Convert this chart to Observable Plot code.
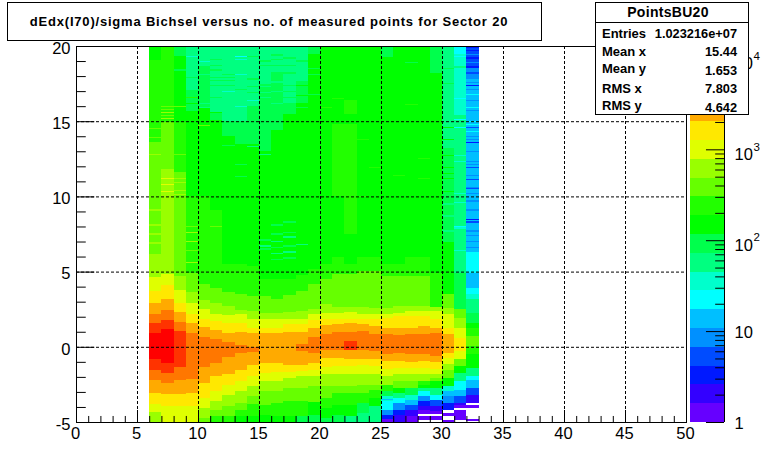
<!DOCTYPE html>
<html><head><meta charset="utf-8">
<script src="https://cdn.jsdelivr.net/npm/d3@7"></script>
<script src="https://cdn.jsdelivr.net/npm/@observablehq/plot@0.6"></script>
<style>
html,body{margin:0;padding:0;background:#fff;width:763px;height:469px;overflow:hidden}
#wrap{position:relative;width:763px;height:469px;font-family:"Liberation Sans",Arial,sans-serif;color:#000}
#wrap svg{position:absolute;left:0;top:0;background:transparent}
#title{position:absolute;left:7px;top:2px;width:522px;padding-right:11px;height:37px;border:1px solid #000;background:#fff;text-align:center;line-height:37px;font-size:13px;font-weight:bold;letter-spacing:.8px;white-space:nowrap}
#stats{position:absolute;left:595px;top:2px;width:152px;height:111px;border:1px solid #000;background:#fff;font-weight:bold}
#stats .h{position:absolute;left:0;top:0;width:144px;padding-right:8px;height:19px;border-bottom:1px solid #000;text-align:center;line-height:19px;font-size:14px;font-weight:bold;letter-spacing:.3px}
#stats .k{position:absolute;left:6px;height:16px;line-height:16px;font-size:13px}
#stats .v{position:absolute;right:11px;height:16px;line-height:16px;font-size:12.8px}
</style></head><body><div id="wrap"></div>
<script>
// Contour colours of the z palette, lowest to highest
const palette = ["#6600ff","#3300ff","#0019ff","#004cff","#0090ff","#00bfff","#00ffff","#00ffcc","#00ff80","#00ff4c","#00ff00","#22ff00","#66ff00","#99ff00","#dfff00","#ffe800","#ffaa00","#ff7700","#ff3300","#ff0000"];
// Contour edges of z
const zEdges = [1,1.61,2.59,4.17,6.72,10.8,17.4,28,45.1,72.6,117,188,303,488,786,1266,2038,3281,5283,8507,13700];

// For each x bin: [contour level, top of the run in y], from y=-5 upward. -1 = empty.
const col06=[[13,-4.33],[14,-3.78],[15,-3.07],[16,-2.18],[17,-1.51],[18,-.8],[19,.89],[18,1.55],[17,2.2],[16,2.89],[15,3.71],[14,4.67],[13,6.18],[12,13.62],[11,19.07],[10,20]];
const col07=[[14,-3.96],[15,-3.13],[16,-2.4],[17,-1.73],[18,-1.11],[19,1.16],[18,1.75],[17,2.42],[16,3.16],[15,4.11],[14,4.82],[13,11.84],[12,14.96],[11,20]];
const col08=[[14,-3.96],[15,-3.11],[16,-2.18],[17,-1.33],[18,1.04],[17,1.64],[16,2.33],[15,2.93],[14,3.76],[13,4.71],[12,11.62],[11,14.96],[10,19.33],[9,20]];
const col09=[[14,-3.96],[15,-3.07],[16,-2.13],[17,.93],[16,1.55],[15,2.2],[14,2.89],[13,3.67],[12,4.93],[11,10],[10,15.7],[9,17.07],[8,20]];
const col10=[[12,-4.73],[13,-4.07],[14,-3.4],[15,-2.4],[16,-1.36],[17,.67],[16,1.31],[15,1.82],[14,2.49],[13,3.11],[12,4.16],[11,10],[10,15.9],[9,18.67],[8,20]];
const col11=[[11,-4.6],[12,-4.18],[13,-3.62],[14,-2.96],[15,-1.96],[16,-1.07],[17,.49],[16,1.09],[15,1.71],[14,2.16],[13,2.93],[12,3.93],[11,9.07],[10,15.07],[9,15.6],[8,20]];
const col12=[[11,-4.58],[12,-3.96],[13,-3.18],[14,-2.51],[15,-1.84],[16,-.67],[17,.33],[16,.93],[15,1.6],[14,2.09],[13,2.71],[12,3.64],[11,5.5],[10,14],[9,15],[8,20]];
const col13=[[10,-4.6],[11,-4.18],[12,-3.73],[13,-2.96],[14,-2.29],[15,-1.51],[16,-.4],[17,.09],[16,.98],[15,1.6],[14,2.16],[13,2.44],[12,3.49],[11,5.5],[10,13.5],[9,15],[8,20]];
const col14=[[10,-4.6],[11,-3.78],[12,-3.27],[13,-2.6],[14,-1.96],[15,-1.24],[16,-.33],[17,0],[16,.89],[15,1.27],[14,1.82],[13,2.38],[12,3.38],[11,5.4],[10,13.5],[9,16],[8,20]];
const col15=[[10,-4.51],[11,-3.84],[12,-2.96],[13,-2.29],[14,-1.73],[15,-1.07],[16,.89],[15,1.27],[14,1.87],[13,2.27],[12,3.38],[11,4.5],[10,13],[9,17.5],[8,20]];
const col16=[[10,-4.6],[11,-3.73],[12,-2.96],[13,-2.29],[14,-1.69],[15,-1.11],[16,.89],[15,1.27],[14,1.82],[13,2.27],[12,3.2],[11,4.5],[10,14.4],[9,18.3],[8,20]];
const col17=[[10,-4.58],[11,-3.62],[12,-2.73],[13,-2.07],[14,-1.69],[15,-1.18],[16,.98],[15,1.49],[14,1.87],[13,2.31],[12,3.42],[11,4.5],[10,15.5],[9,16.2],[8,20]];
const col18=[[9,-4.62],[11,-3.62],[12,-2.73],[13,-1.96],[14,-1.62],[15,-1.18],[16,-.29],[17,.16],[16,.98],[15,1.53],[14,1.87],[13,2.38],[12,3.71],[11,4.8],[10,16.2],[9,17.7],[8,20]];
const col19=[[9,-4.51],[10,-3.69],[12,-2.62],[13,-1.96],[14,-1.51],[15,-1.07],[16,-.4],[17,.67],[16,1.22],[15,1.76],[14,2.16],[13,2.53],[12,4.16],[11,5.2],[10,19.5],[9,20]];
const col20=[[9,-4.73],[10,-4.07],[11,-3.4],[12,-2.62],[13,-1.84],[14,-1.33],[15,-.73],[16,-.18],[17,.82],[16,1.44],[15,1.87],[14,2.22],[13,2.82],[12,4.49],[11,5.5],[10,20]];
const col21=[[9,-4.51],[10,-3.84],[11,-3.07],[12,-2.62],[13,-1.84],[14,-1.29],[15,-.76],[16,-.22],[17,.98],[16,1.49],[15,1.82],[14,2.27],[13,2.64],[12,4.82],[11,6],[10,10],[11,14.84],[10,20]];
const col22=[[8,-4.58],[10,-3.84],[11,-3.07],[12,-2.58],[13,-1.84],[14,-1.29],[15,-.84],[16,-.18],[18,.36],[17,.98],[16,1.6],[15,1.87],[14,2.31],[13,2.64],[12,4.82],[11,5.5],[10,7.5],[11,14.84],[10,15.5],[11,16.4],[10,20]];
const col23=[[8,-4.4],[9,-3.73],[11,-3.07],[12,-2.51],[13,-1.84],[14,-1.24],[15,-.78],[16,-.22],[17,1.04],[16,1.53],[15,1.87],[14,2.16],[13,2.64],[12,5.04],[11,6],[10,20]];
const col24=[[8,-3.96],[10,-3.4],[11,-2.84],[12,-2.51],[13,-1.84],[14,-1.29],[15,-.84],[16,-.29],[17,.82],[16,1.38],[15,1.87],[14,2.16],[13,2.6],[12,5.04],[11,6],[10,20]];
const col25=[[0,-4.8],[2,-4.51],[4,-4.18],[6,-3.62],[7,-3.29],[9,-2.96],[11,-2.51],[13,-1.96],[14,-1.47],[15,-.96],[16,-.51],[17,.82],[16,1.27],[15,1.93],[14,2.2],[13,2.6],[12,4.71],[11,5.5],[10,19.3],[9,20]];
const col26=[[1,-4.51],[2,-4.18],[4,-3.73],[6,-3.4],[8,-3.07],[10,-2.73],[12,-2.29],[13,-1.84],[14,-1.4],[15,-.96],[16,-.4],[17,.76],[16,1.27],[15,2.04],[14,2.27],[13,2.71],[12,4.71],[11,5.5],[10,20]];
const col27=[[0,-4.62],[1,-4.18],[3,-3.84],[5,-3.51],[7,-3.18],[9,-2.73],[12,-2.29],[13,-1.84],[14,-1.4],[15,-1],[16,-.51],[17,.82],[16,1.27],[15,2.04],[14,2.38],[13,2.71],[12,4.71],[11,6],[10,20]];
const col28=[[-1,-4.84],[0,-4.58],[-1,-4.47],[0,-4.2],[1,-3.96],[2,-3.62],[4,-3.29],[6,-2.96],[8,-2.73],[10,-2.51],[11,-2.29],[13,-1.84],[14,-1.4],[15,-.96],[16,-.51],[17,.82],[16,1.38],[15,2.04],[14,2.38],[13,2.71],[12,4.71],[11,6],[10,20]];
const col29=[[-1,-4.84],[0,-4.62],[-1,-4.5],[0,-4.3],[1,-3.96],[3,-3.51],[6,-3.18],[8,-2.73],[10,-2.29],[12,-2.07],[13,-1.84],[14,-1.47],[15,-1],[16,-.62],[17,.89],[16,1.27],[15,1.82],[14,2.38],[13,2.64],[11,4.93],[10,18.2],[9,20]];
const col30=[[0,-4.84],[-1,-4.62],[0,-4.4],[-1,-4.2],[2,-3.73],[4,-3.29],[5,-2.96],[7,-2.62],[10,-2.07],[12,-1.51],[13,-1.13],[14,-.73],[15,-.4],[16,.82],[15,1.27],[14,2.16],[13,2.6],[12,3.49],[10,7],[9,13.2],[8,20]];
const col31=[[-1,-4.84],[0,-4.18],[-1,-4.07],[0,-3.87],[1,-3.73],[3,-3.29],[5,-2.84],[6,-2.29],[8,-1.73],[10,-1.29],[12,-.84],[14,-.29],[15,.6],[14,1.27],[13,1.93],[12,2.49],[9,4.93],[8,15.4],[7,19.5],[6,20]];
const col32=[[-1,-4.93],[0,-4.8],[-1,-4.07],[0,-3.84],[-1,-3.76],[1,-3.18],[3,-2.73],[5,-2.18],[6,-1.96],[8,-1.4],[10,-.51],[11,.04],[12,.71],[11,1.27],[10,1.6],[9,2.27],[8,3.16],[7,3.49],[6,3.93],[5,4.93],[6,6.3],[5,17.8],[4,18.67],[3,20]];
const columns=[col06,col07,col08,col09,col10,col11,col12,col13,col14,col15,col16,col17,col18,col19,col20,col21,col22,col23,col24,col25,col26,col27,col28,col29,col30,col31,col32];
const firstBin=6;

// Thin single-bin streaks: [x bin, y, level]
const streaks=[
[32,19.9,2],[32,19.7,2],[32,19.45,4],[32,19.2,2],[32,18.9,4],[32,18.6,2],[32,18.2,3],[32,17.55,4],[32,17.4,2],[32,17.1,4],[32,16.8,6],[32,16.4,4],[32,15.9,6],[32,15.7,4],[32,15.0,6],[32,14.8,6],[32,14.6,3],[32,14.3,6],[32,14.0,4],[32,13.8,4],[32,13.6,2],[32,13.0,4],[32,12.3,4],[32,12.1,4],[32,11.9,3],[32,11.4,4],[32,11.1,3],[32,10.6,4],[32,10.5,3],[32,10.2,4],[32,9.7,4],[32,9.1,4],[32,8.45,2],[32,8.3,3],[32,7.7,4],[32,7.4,4],[32,7,4],[32,6.6,4],
[31,19.3,6],[31,18.9,7],[31,18.6,8],[31,16.5,6],[31,15.1,6],[31,14.6,6],[31,12.7,7],[31,12.3,7],[31,10.2,7],[31,9.6,7],[31,8,6],[31,7.9,7],[31,6.4,7],
[30,18.5,9],[30,17.5,9],[30,14.6,10],[30,13.8,10],[30,12.7,10],[30,11.9,10],[30,11.5,10],[30,11.2,10],[30,10.3,10],[30,9.5,8],[30,8.7,8],[30,7.7,8],
[6,18.9,11],[6,18.6,11],[6,18.3,11],[6,17.9,11],[6,17.4,11],[6,16.9,11],[6,14.5,12],[6,13.9,12],[6,12.8,13],[6,12.5,12],[6,9.1,13],[6,8.1,13],[6,7.5,13],[6,6.9,13],
[7,16,12],[7,15.8,12],[7,15.6,13],[7,15.4,12],[7,15.2,13],[7,11.2,14],[7,10.8,14],[7,10.3,14],
[8,11.2,13],[8,10.9,13],[8,10.4,13],[8,10.1,13],[8,12.8,12],[8,18.4,9],[8,16,12],
[9,7.6,13],[9,7,13],[9,6.4,12],[9,5.6,13],[9,8,12],[9,19.3,7],[9,16.6,11],[9,16.2,10],[9,17.9,9],
[10,19.1,8],[10,18.95,7],[10,18.1,8],[10,16.2,8],[10,15.9,8],[10,14.7,12],[11,6.5,11],[11,8,12],
[11,19.1,9],[11,18.7,9],[11,18.4,9],[11,17.9,9],[11,17.7,9],[11,17.4,9],[11,16.6,9],[11,15.6,10],
[12,18.1,9],[12,17.9,9],[12,17.7,9],[12,17.4,9],[12,17,7],[12,13.4,9],
[13,19.3,6],[13,19.1,7],[13,18.1,7],[13,17.1,9],[13,16,7],[13,12.1,9],[13,11.3,9],
[14,17.8,9],[14,17.3,9],[14,16.9,9],[14,16.4,7],[14,13.3,8],[14,19.3,9],
[15,19,9],[15,18.7,9],[15,17.3,8],[15,16.9,8],[15,16.6,8],[15,12.8,8],[15,6.7,8],[15,6.5,9],[15,7.1,9],
[16,19.4,9],[16,19.1,9],[16,18.7,9],[16,17.6,8],[16,17,8],[16,16.2,8],[16,6.2,8],[16,7,8],[16,5.8,9],[16,6.6,9],[16,7.5,9],[16,8.1,9],
[17,19.2,9],[17,18.7,9],[17,18.2,9],[17,17.4,9],[17,17,9],[17,16.6,9],[17,7.3,8],[17,6.3,8],[17,5.9,9],[17,6.7,9],[17,7.6,9],[17,8.3,9],
[18,19,9],[18,17.4,10],[18,17.1,9],[18,16.7,10],[18,6.8,8],[18,15.9,9],
[19,18.5,9],[19,18.1,9],[19,16.8,9],[20,15.9,11],[21,16.5,11],[21,12.3,11],[22,11.6,11],[22,9.7,11],[23,13.8,11],[23,10,11],[24,11.9,11],
[26,11.4,11],[27,16.1,11],[27,18.9,9],[28,12.5,11],[28,11.2,11],[29,19.2,9],
[25,-3.5,5]
];

const xMajor=[0,5,10,15,20,25,30,35,40,45,50];
const xMinor=[1,2,3,4,6,7,8,9,11,12,13,14,16,17,18,19,21,22,23,24,26,27,28,29,31,32,33,34,36,37,38,39,41,42,43,44,46,47,48,49];
const yMajor=[-5,0,5,10,15,20];
const yMinor=[-4,-3,-2,-1,1,2,3,4,6,7,8,9,11,12,13,14,16,17,18,19];
const zMajor=[1,10,100,1000,10000];
const zMinor=[2,3,4,5,6,7,8,9,20,30,40,50,60,70,80,90,200,300,400,500,600,700,800,900,2000,3000,4000,5000,6000,7000,8000,9000];
const zLabels=[{z:1,b:"1"},{z:10,b:"10"},{z:100,b:"10",e:"2"},{z:1000,b:"10",e:"3"},{z:10000,b:"10",e:"4"}];

const titleText="dEdx(I70)/sigma Bichsel versus no. of measured points for Sector 20";
const statsName="PointsBU20";
const statsRows=[["Entries","1.023216e+07"],["Mean x","15.44"],["Mean y","1.653"],["RMS x","7.803"],["RMS y","4.642"]];

const cells=[];
columns.forEach((runs,i)=>{let lo=-5;for(const [level,top] of runs){if(level>=0)cells.push({x1:firstBin+i,x2:firstBin+i+1,y1:lo,y2:top,level});lo=top;}});
const streakCells=streaks.map(([c,y,level])=>({x1:c,x2:c+1,y1:y-.04,y2:y+.04,level}));

const font='"Liberation Sans",Arial,sans-serif';
const main=Plot.plot({
  width:763,height:469,marginLeft:76,marginRight:77,marginTop:46,marginBottom:47,
  style:{background:"transparent",fontFamily:font,overflow:"visible"},
  x:{domain:[0,50],label:null},y:{domain:[-5,20],label:null},
  color:{type:"ordinal",domain:d3.range(20),range:palette},
  marks:[
    Plot.rect(cells,{x1:"x1",x2:"x2",y1:"y1",y2:"y2",fill:"level",shapeRendering:"crispEdges"}),
    Plot.rect(streakCells,{x1:"x1",x2:"x2",y1:"y1",y2:"y2",fill:"level",shapeRendering:"crispEdges"}),
    Plot.ruleX(xMajor,{stroke:"#000",strokeDasharray:"3,2",strokeWidth:1}),
    Plot.ruleY(yMajor,{stroke:"#000",strokeDasharray:"3,2",strokeWidth:1}),
    Plot.ruleX(xMinor,{y1:-5,y2:-4.6,stroke:"#000"}),
    Plot.ruleX(xMajor,{y1:-5,y2:-4.2,stroke:"#000"}),
    Plot.ruleY(yMinor,{x1:0,x2:.8,stroke:"#000"}),
    Plot.ruleY(yMajor,{x1:0,x2:1.5,stroke:"#000"}),
    Plot.frame({stroke:"#000",strokeWidth:1}),
    Plot.axisX({ticks:xMajor,tickSize:0,tickPadding:5,dx:-1,fontSize:16.5,label:null,tickFormat:d=>String(d)}),
    Plot.axisY({ticks:yMajor,tickSize:0,tickPadding:6,fontSize:16.5,label:null,tickFormat:d=>String(d),dy:2})
  ]
});

const barCells=palette.map((c,i)=>({lo:zEdges[i],hi:zEdges[i+1],c}));
const bar=Plot.plot({
  width:763,height:469,marginLeft:690,marginRight:39,marginTop:46,marginBottom:47,
  style:{background:"transparent",fontFamily:font,overflow:"visible"},
  x:{domain:[0,1],axis:null},y:{type:"log",domain:[1,13700],axis:null},
  marks:[
    Plot.rect(barCells,{x1:0,x2:1,y1:"lo",y2:"hi",fill:"c",shapeRendering:"crispEdges"}),
    Plot.ruleY(zMinor,{x1:.74,x2:1,stroke:"#000"}),
    Plot.ruleY(zMajor,{x1:.47,x2:1,stroke:"#000"}),
    Plot.ruleX([1],{stroke:"#000"}),
    Plot.text(zLabels.filter(d=>!d.e),{x:1,y:"z",text:"b",dx:10,dy:1,textAnchor:"start",fontSize:16.5,fill:"#000"}),
    Plot.text(zLabels.filter(d=>d.e),{x:1,y:"z",text:"b",dx:10,dy:5,textAnchor:"start",fontSize:16.5,fill:"#000"}),
    Plot.text(zLabels.filter(d=>d.e),{x:1,y:"z",text:"e",dx:29,dy:-3,textAnchor:"start",fontSize:11.5,fill:"#000"})
  ]
});

const wrap=document.getElementById("wrap");
wrap.append(main,bar);
const t=document.createElement("div");t.id="title";t.textContent=titleText;wrap.append(t);
const s=document.createElement("div");s.id="stats";
const h=document.createElement("div");h.className="h";h.textContent=statsName;s.append(h);
const keyTops=[23,41,58,78,95];
const valTops=[23,41,60,78,97];
statsRows.forEach(([k,v],i)=>{
  const a=document.createElement("div");a.className="k";a.textContent=k;a.style.top=keyTops[i]+"px";
  const b=document.createElement("div");b.className="v";b.textContent=v;b.style.top=valTops[i]+"px";
  s.append(a,b);});
wrap.append(s);
</script></body></html>
